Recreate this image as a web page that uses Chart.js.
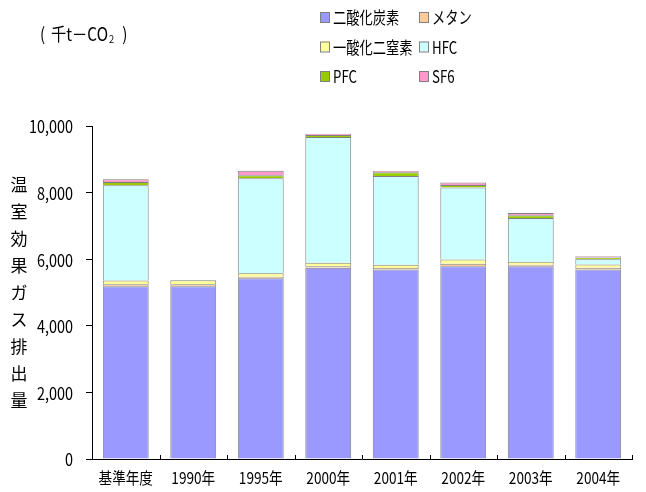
<!DOCTYPE html>
<html lang="ja">
<head>
<meta charset="utf-8">
<title>温室効果ガス排出量</title>
<script src="https://cdn.jsdelivr.net/npm/chart.js@4/dist/chart.umd.min.js"></script>
<style>
  html, body { margin: 0; padding: 0; background: #fff; }
  canvas { display: block; }
</style>
</head>
<body>
<canvas id="ghgChart" width="646" height="492"></canvas>
<script>
// 千t-CO2
const years = ['基準年度', '1990年', '1995年', '2000年', '2001年', '2002年', '2003年', '2004年'];
const co2 = [5190, 5190, 5425, 5740, 5690, 5790, 5790, 5690];
const ch4 = [60, 60, 50, 50, 45, 70, 45, 50];
const n2o = [110, 115, 100, 100, 95, 130, 85, 100];
const hfc = [2860, 0, 2855, 3780, 2670, 2160, 1320, 160];
const pfc = [100, 0, 90, 60, 110, 80, 80, 50];
const sf6 = [80, 0, 135, 40, 40, 70, 70, 40];
const yTicks = [0, 2000, 4000, 6000, 8000, 10000];

const JP = "'Noto Sans CJK JP', sans-serif";

function series(label, data, color) {
    return {
        label: label,
        data: data,
        backgroundColor: color,
        borderColor: '#808080',
        borderWidth: 1,
        barPercentage: 0.68,
        categoryPercentage: 1.0
    };
}

// 長体(横幅を詰めた)文字
function narrowText(ctx, text, x, y, align, sx) {
    ctx.save();
    ctx.translate(x, y);
    ctx.scale(sx, 1);
    ctx.textAlign = align;
    ctx.fillText(text, 0, 0);
    ctx.restore();
}

// 凡例(2列)、単位、縦書きの軸タイトル、目盛りラベル
const extras = {
    id: 'extras',
    afterDraw(chart) {
        const ctx = chart.ctx;
        const xs = chart.scales.x;
        const ys = chart.scales.y;
        ctx.save();
        ctx.fillStyle = '#000';
        ctx.textBaseline = 'middle';

        // 凡例
        ctx.font = '17px ' + JP;
        chart.data.datasets.forEach(function (ds, i) {
            const bx = i % 2 === 0 ? 320 : 419;
            const by = 17 + Math.floor(i / 2) * 29.5;
            ctx.fillStyle = ds.backgroundColor;
            ctx.fillRect(bx, by - 5, 9, 10);
            ctx.strokeStyle = '#808080';
            ctx.lineWidth = 1;
            ctx.strokeRect(bx + 0.5, by - 4.5, 9, 10);
            ctx.fillStyle = '#000';
            narrowText(ctx, ds.label, bx + 13, by + 1, 'left', 0.78);
        });

        // 単位
        const sx = 0.85;
        const uy = 34;
        ctx.font = '18px ' + JP;
        narrowText(ctx, '(', 40, uy, 'left', sx);
        let ux = 51;
        narrowText(ctx, '千t－CO', ux, uy, 'left', sx);
        ux += ctx.measureText('千t－CO').width * sx + 1;
        ctx.font = '11px ' + JP;
        narrowText(ctx, '2', ux, uy + 5, 'left', sx);
        ux += ctx.measureText('2').width * sx + 8;
        ctx.font = '18px ' + JP;
        narrowText(ctx, ')', ux, uy, 'left', sx);

        // 縦書きタイトル
        ctx.font = '17px ' + JP;
        ctx.textAlign = 'center';
        Array.from('温室効果ガス排出量').forEach(function (ch, i) {
            ctx.fillText(ch, 19, 185 + i * 27);
        });

        // y軸ラベル
        ctx.font = '17px ' + JP;
        yTicks.forEach(function (v) {
            narrowText(ctx, v.toLocaleString('en-US'), 73, ys.getPixelForValue(v) + 1, 'right', 0.85);
        });

        // x軸ラベル
        ctx.font = '16px ' + JP;
        years.forEach(function (lbl, i) {
            narrowText(ctx, lbl, xs.getPixelForValue(i), 478, 'center', 0.85);
        });

        // x軸の区切り目盛り(内向き)
        const step = (xs.right - xs.left) / years.length;
        ctx.strokeStyle = '#000';
        ctx.lineWidth = 1;
        ctx.beginPath();
        for (let k = 1; k <= years.length; k++) {
            const px = Math.round(xs.left + k * step) + 0.5;
            ctx.moveTo(px, xs.top);
            ctx.lineTo(px, xs.top - 4);
        }
        ctx.stroke();
        ctx.restore();
    }
};

new Chart(document.getElementById('ghgChart'), {
    type: 'bar',
    data: {
        labels: years,
        datasets: [
            series('二酸化炭素', co2, '#9999ff'),
            series('メタン', ch4, '#ffcc99'),
            series('一酸化二窒素', n2o, '#ffff99'),
            series('HFC', hfc, '#ccffff'),
            series('PFC', pfc, '#99cc00'),
            series('SF6', sf6, '#ff99cc')
        ]
    },
    options: {
        responsive: false,
        animation: false,
        layout: { padding: { top: 126, right: 14, left: 0, bottom: 0 } },
        plugins: {
            legend: { display: false },
            tooltip: { enabled: false }
        },
        scales: {
            x: {
                stacked: true,
                grid: { display: false },
                border: { display: true, color: '#000', width: 1 },
                ticks: { display: false },
                afterFit(scale) { scale.height = 33; }
            },
            y: {
                stacked: true,
                min: 0,
                max: 10000,
                afterBuildTicks(scale) { scale.ticks = yTicks.map(v => ({ value: v })); },
                grid: { drawOnChartArea: false, drawTicks: true, tickLength: 6, color: '#000' },
                border: { display: true, color: '#000', width: 1 },
                ticks: { display: false },
                afterFit(scale) { scale.width = 92; }
            }
        }
    },
    plugins: [extras]
});
</script>
</body>
</html>
